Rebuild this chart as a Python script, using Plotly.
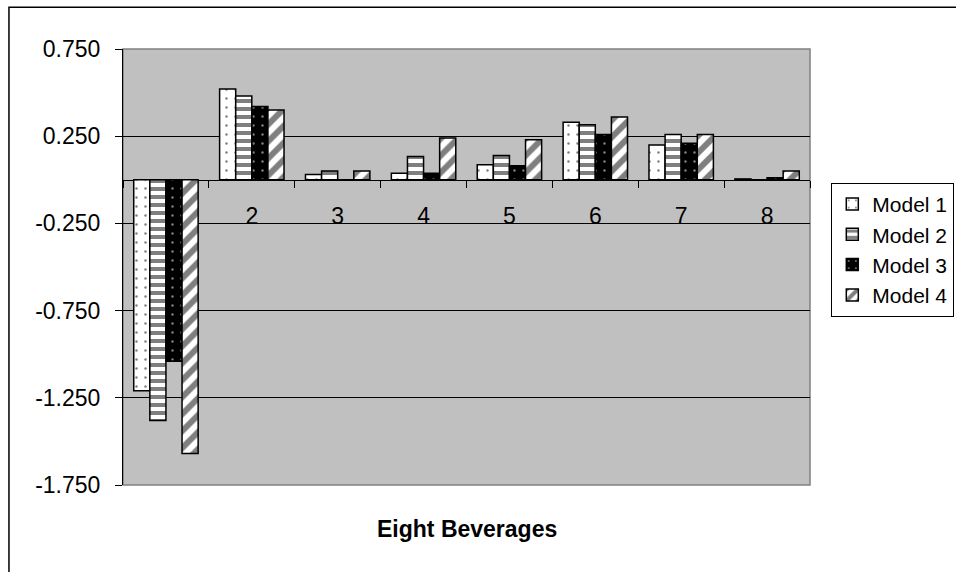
"""Grouped bar chart of four models across eight beverages."""
import plotly.graph_objects as go

categories = ["1", "2", "3", "4", "5", "6", "7", "8"]
model_1 = [-1.21, 0.52, 0.03, 0.038, 0.086, 0.33, 0.20, 0.005]
model_2 = [-1.38, 0.48, 0.05, 0.134, 0.14, 0.315, 0.26, 0.0]
model_3 = [-1.04, 0.42, 0.0, 0.038, 0.08, 0.26, 0.21, 0.012]
model_4 = [-1.57, 0.40, 0.05, 0.24, 0.23, 0.36, 0.26, 0.05]
series_names = ["Model 1", "Model 2", "Model 3", "Model 4"]
y_ticks = [0.75, 0.25, -0.25, -0.75, -1.25, -1.75]
y_tick_labels = ["0.750", "0.250", "-0.250", "-0.750", "-1.250", "-1.750"]

FONT = "Liberation Sans, Arial, sans-serif"

# Excel-style fill patterns
patterns = [
    dict(shape=".", fgcolor="black", bgcolor="white", size=9, solidity=0.06),
    dict(shape="-", fgcolor="black", bgcolor="white", size=8, solidity=0.5),
    dict(shape=".", fgcolor="white", bgcolor="black", size=9, solidity=0.06),
    dict(shape="/", fgcolor="black", bgcolor="white", size=12, solidity=0.5),
]


def plot_beverages() -> go.Figure:
    fig = go.Figure()
    for name, values, pat in zip(series_names, [model_1, model_2, model_3, model_4], patterns):
        fig.add_trace(go.Bar(
            x=categories, y=values, name=name,
            marker=dict(color=pat["bgcolor"], pattern=pat,
                        line=dict(color="black", width=1.5)),
        ))

    y_min, y_max = -1.75, 0.75
    zero_pos = (0 - y_min) / (y_max - y_min)

    fig.update_layout(
        width=956, height=572,
        margin=dict(l=123, r=146, t=49, b=87, autoexpand=False),
        paper_bgcolor="white", plot_bgcolor="#C0C0C0",
        barmode="group", bargap=0.25, bargroupgap=0,
        font=dict(family=FONT, size=22, color="black"),
        showlegend=True,
        legend=dict(x=1.031, y=0.693, xanchor="left", yanchor="top",
                    bgcolor="white", bordercolor="black", borderwidth=1,
                    font=dict(size=21), tracegroupgap=0, itemwidth=30),
        xaxis=dict(type="category", anchor="free", position=zero_pos,
                   showline=True, linecolor="black", linewidth=1,
                   ticks="outside", tickson="boundaries", ticklen=7,
                   tickcolor="black", ticklabelstandoff=16,
                   showgrid=False, layer="below traces",
                   tickfont=dict(size=23)),
        yaxis=dict(range=[y_min, y_max], tickvals=y_ticks, ticktext=y_tick_labels,
                   showline=True, linecolor="black", linewidth=1,
                   ticks="outside", ticklen=7, tickcolor="black",
                   ticklabelstandoff=10,
                   showgrid=True, gridcolor="black", gridwidth=1,
                   zeroline=False, tickfont=dict(size=23)),
    )

    # plot area border and the outer chart frame
    fig.add_shape(type="rect", xref="paper", yref="paper", x0=0, x1=1, y0=0, y1=1,
                  line=dict(color="#808080", width=1.5), layer="below")
    fig.add_shape(type="rect", xref="paper", yref="paper",
                  x0=-0.166, x1=1.5, y0=-0.3, y1=1.096,
                  line=dict(color="black", width=1.5))

    fig.add_annotation(text="<b>Eight Beverages</b>", xref="paper", yref="paper",
                       x=0.5, y=-0.101, showarrow=False, yanchor="middle",
                       font=dict(size=23))
    return fig


fig = plot_beverages()
fig.write_html("out.html", config={"displayModeBar": False},
               post_script="document.body.style.margin = '0px';")
